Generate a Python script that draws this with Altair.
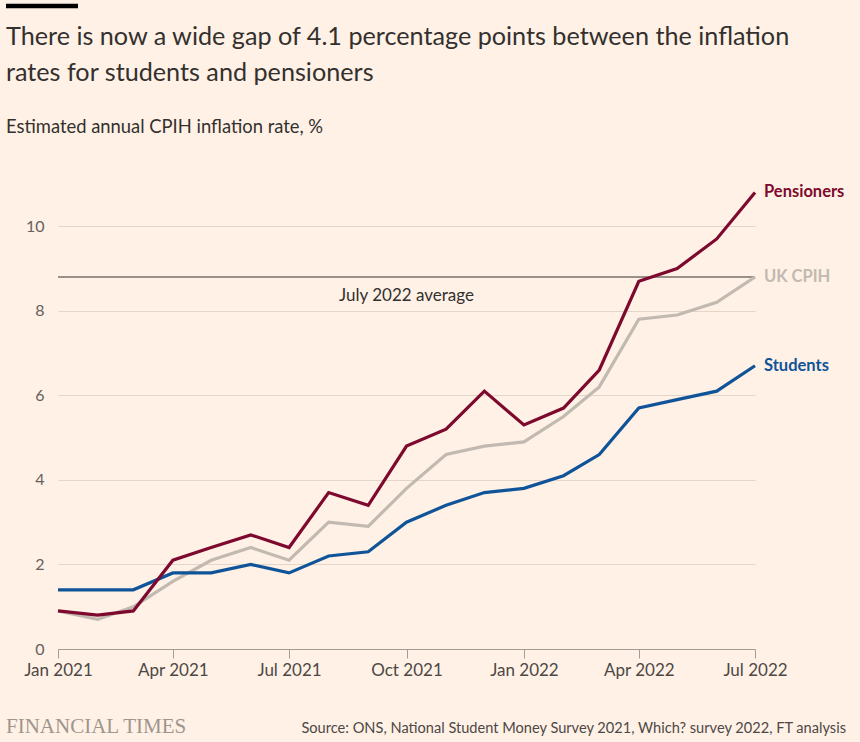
import altair as alt
import pandas as pd

months = pd.date_range("2021-01-01", "2022-07-01", freq="MS").strftime("%Y-%m-%d").tolist()
pensioners = [0.9, 0.8, 0.9, 2.1, 2.4, 2.7, 2.4, 3.7, 3.4, 4.8, 5.2, 6.1, 5.3, 5.7, 6.6, 8.7, 9.0, 9.7, 10.8]
uk_cpih = [0.9, 0.7, 1.0, 1.6, 2.1, 2.4, 2.1, 3.0, 2.9, 3.8, 4.6, 4.8, 4.9, 5.5, 6.2, 7.8, 7.9, 8.2, 8.8]
students = [1.4, 1.4, 1.4, 1.8, 1.8, 2.0, 1.8, 2.2, 2.3, 3.0, 3.4, 3.7, 3.8, 4.1, 4.6, 5.7, 5.9, 6.1, 6.7]
series_names = ["Pensioners", "UK CPIH", "Students"]
series_colors = ["#7D0A2E", "#C2B9B1", "#0F5499"]
avg_value = 8.8
avg_label = "July 2022 average"
y_ticks = [0, 2, 4, 6, 8, 10]

FONT = "Lato"
BG = "#FFF1E5"

rows = []
for name, vals in zip(series_names, [pensioners, uk_cpih, students]):
    for m, v in zip(months, vals):
        rows.append({"date": m, "value": v, "series": name})
df = pd.DataFrame(rows)
last = df[df["date"] == months[-1]]

W, H = 697, 465
x_scale = alt.Scale(type="utc", domain=[alt.DateTime(year=2021, month=1, date=1, utc=True),
                                        alt.DateTime(year=2022, month=7, date=1, utc=True)])
y_scale = alt.Scale(domain=[0, 11], nice=False)
color_scale = alt.Scale(domain=series_names, range=series_colors)

tick_values = [alt.DateTime(year=y, month=m, date=1, utc=True)
               for y, m in [(2021, 1), (2021, 4), (2021, 7), (2021, 10), (2022, 1), (2022, 4), (2022, 7)]]

x_axis = alt.Axis(values=tick_values, format="%b %Y", grid=False, domainColor="#A39C95",
                  tickColor="#A39C95", tickSize=9, labelPadding=4, labelFontSize=17,
                  labelColor="#4D4845", labelFont=FONT, labelFlush=False)
y_axis = alt.Axis(values=y_ticks, domain=False, ticks=False, gridColor="#E3D5C8",
                  labelPadding=14, labelFontSize=16, labelColor="#66605C", labelFont=FONT)

lines = alt.layer(*[
    alt.Chart(df[df["series"] == s]).mark_line(strokeWidth=3.2, clip=False).encode(
        x=alt.X("date:T", scale=x_scale, title=None, axis=x_axis),
        y=alt.Y("value:Q", scale=y_scale, title=None, axis=y_axis),
        color=alt.Color("series:N", scale=color_scale, legend=None),
    ) for s in ["UK CPIH", "Students", "Pensioners"]
])

avg_df = pd.DataFrame({"v": [avg_value], "d": ["2021-10-01"], "t": [avg_label]})
avg_rule = alt.Chart(avg_df).mark_rule(color="#33302E", strokeWidth=1.2).encode(y=alt.Y("v:Q", scale=y_scale))
avg_halo = alt.Chart(avg_df).mark_text(font=FONT, fontSize=17, dy=19, align="center", baseline="middle",
                                       stroke=BG, strokeWidth=5, color=BG).encode(
    x=alt.X("d:T", scale=x_scale), y=alt.Y("v:Q", scale=y_scale), text="t:N")
avg_text = alt.Chart(avg_df).mark_text(font=FONT, fontSize=17, dy=19, align="center", baseline="middle",
                                       color="#33302E").encode(
    x=alt.X("d:T", scale=x_scale), y=alt.Y("v:Q", scale=y_scale), text="t:N")

end_labels = alt.Chart(last).mark_text(font=FONT, fontSize=16.5, fontWeight="bold", align="left",
                                        baseline="middle", dx=9).encode(
    x=alt.X("date:T", scale=x_scale), y=alt.Y("value:Q", scale=y_scale), text="series:N",
    color=alt.Color("series:N", scale=color_scale, legend=None))

top = 184
left = 58
one = pd.DataFrame({"a": [0]})

def txt(s, x, y, size, color, align="left", weight="normal", font=FONT):
    return alt.Chart(one).mark_text(text=s, font=font, fontSize=size, color=color, align=align,
                                    baseline="alphabetic", fontWeight=weight).encode(
        x=alt.value(x - left), y=alt.value(y - top))

title1 = txt("There is now a wide gap of 4.1 percentage points between the inflation", 6, 45, 25.2, "#33302E")
title2 = txt("rates for students and pensioners", 6, 81, 25.2, "#33302E")
subtitle = txt("Estimated annual CPIH inflation rate, %", 6, 133, 18.4, "#33302E")
source = txt("Source: ONS, National Student Money Survey 2021, Which? survey 2022, FT analysis",
             846, 733, 14.6, "#4D4845", align="right")
ft = txt("FINANCIAL TIMES", 6, 733, 21, "#9E958D", font="Liberation Serif")
bar = alt.Chart(one).mark_rule(color="#000000", strokeWidth=4.5).encode(
    x=alt.value(6 - left), x2=alt.value(78 - left), y=alt.value(6 - top))

chart = alt.layer(
    avg_rule, lines, avg_halo, avg_text, end_labels, title1, title2, subtitle, source, ft, bar
).properties(
    width=W, height=H,
    autosize=alt.AutoSizeParams(type="none"),
    padding={"left": left, "top": top, "right": 860 - left - W, "bottom": 742 - top - H},
    background=BG,
).configure_view(stroke=None)

chart.save("out.html", embed_options={"renderer": "svg", "actions": False})
